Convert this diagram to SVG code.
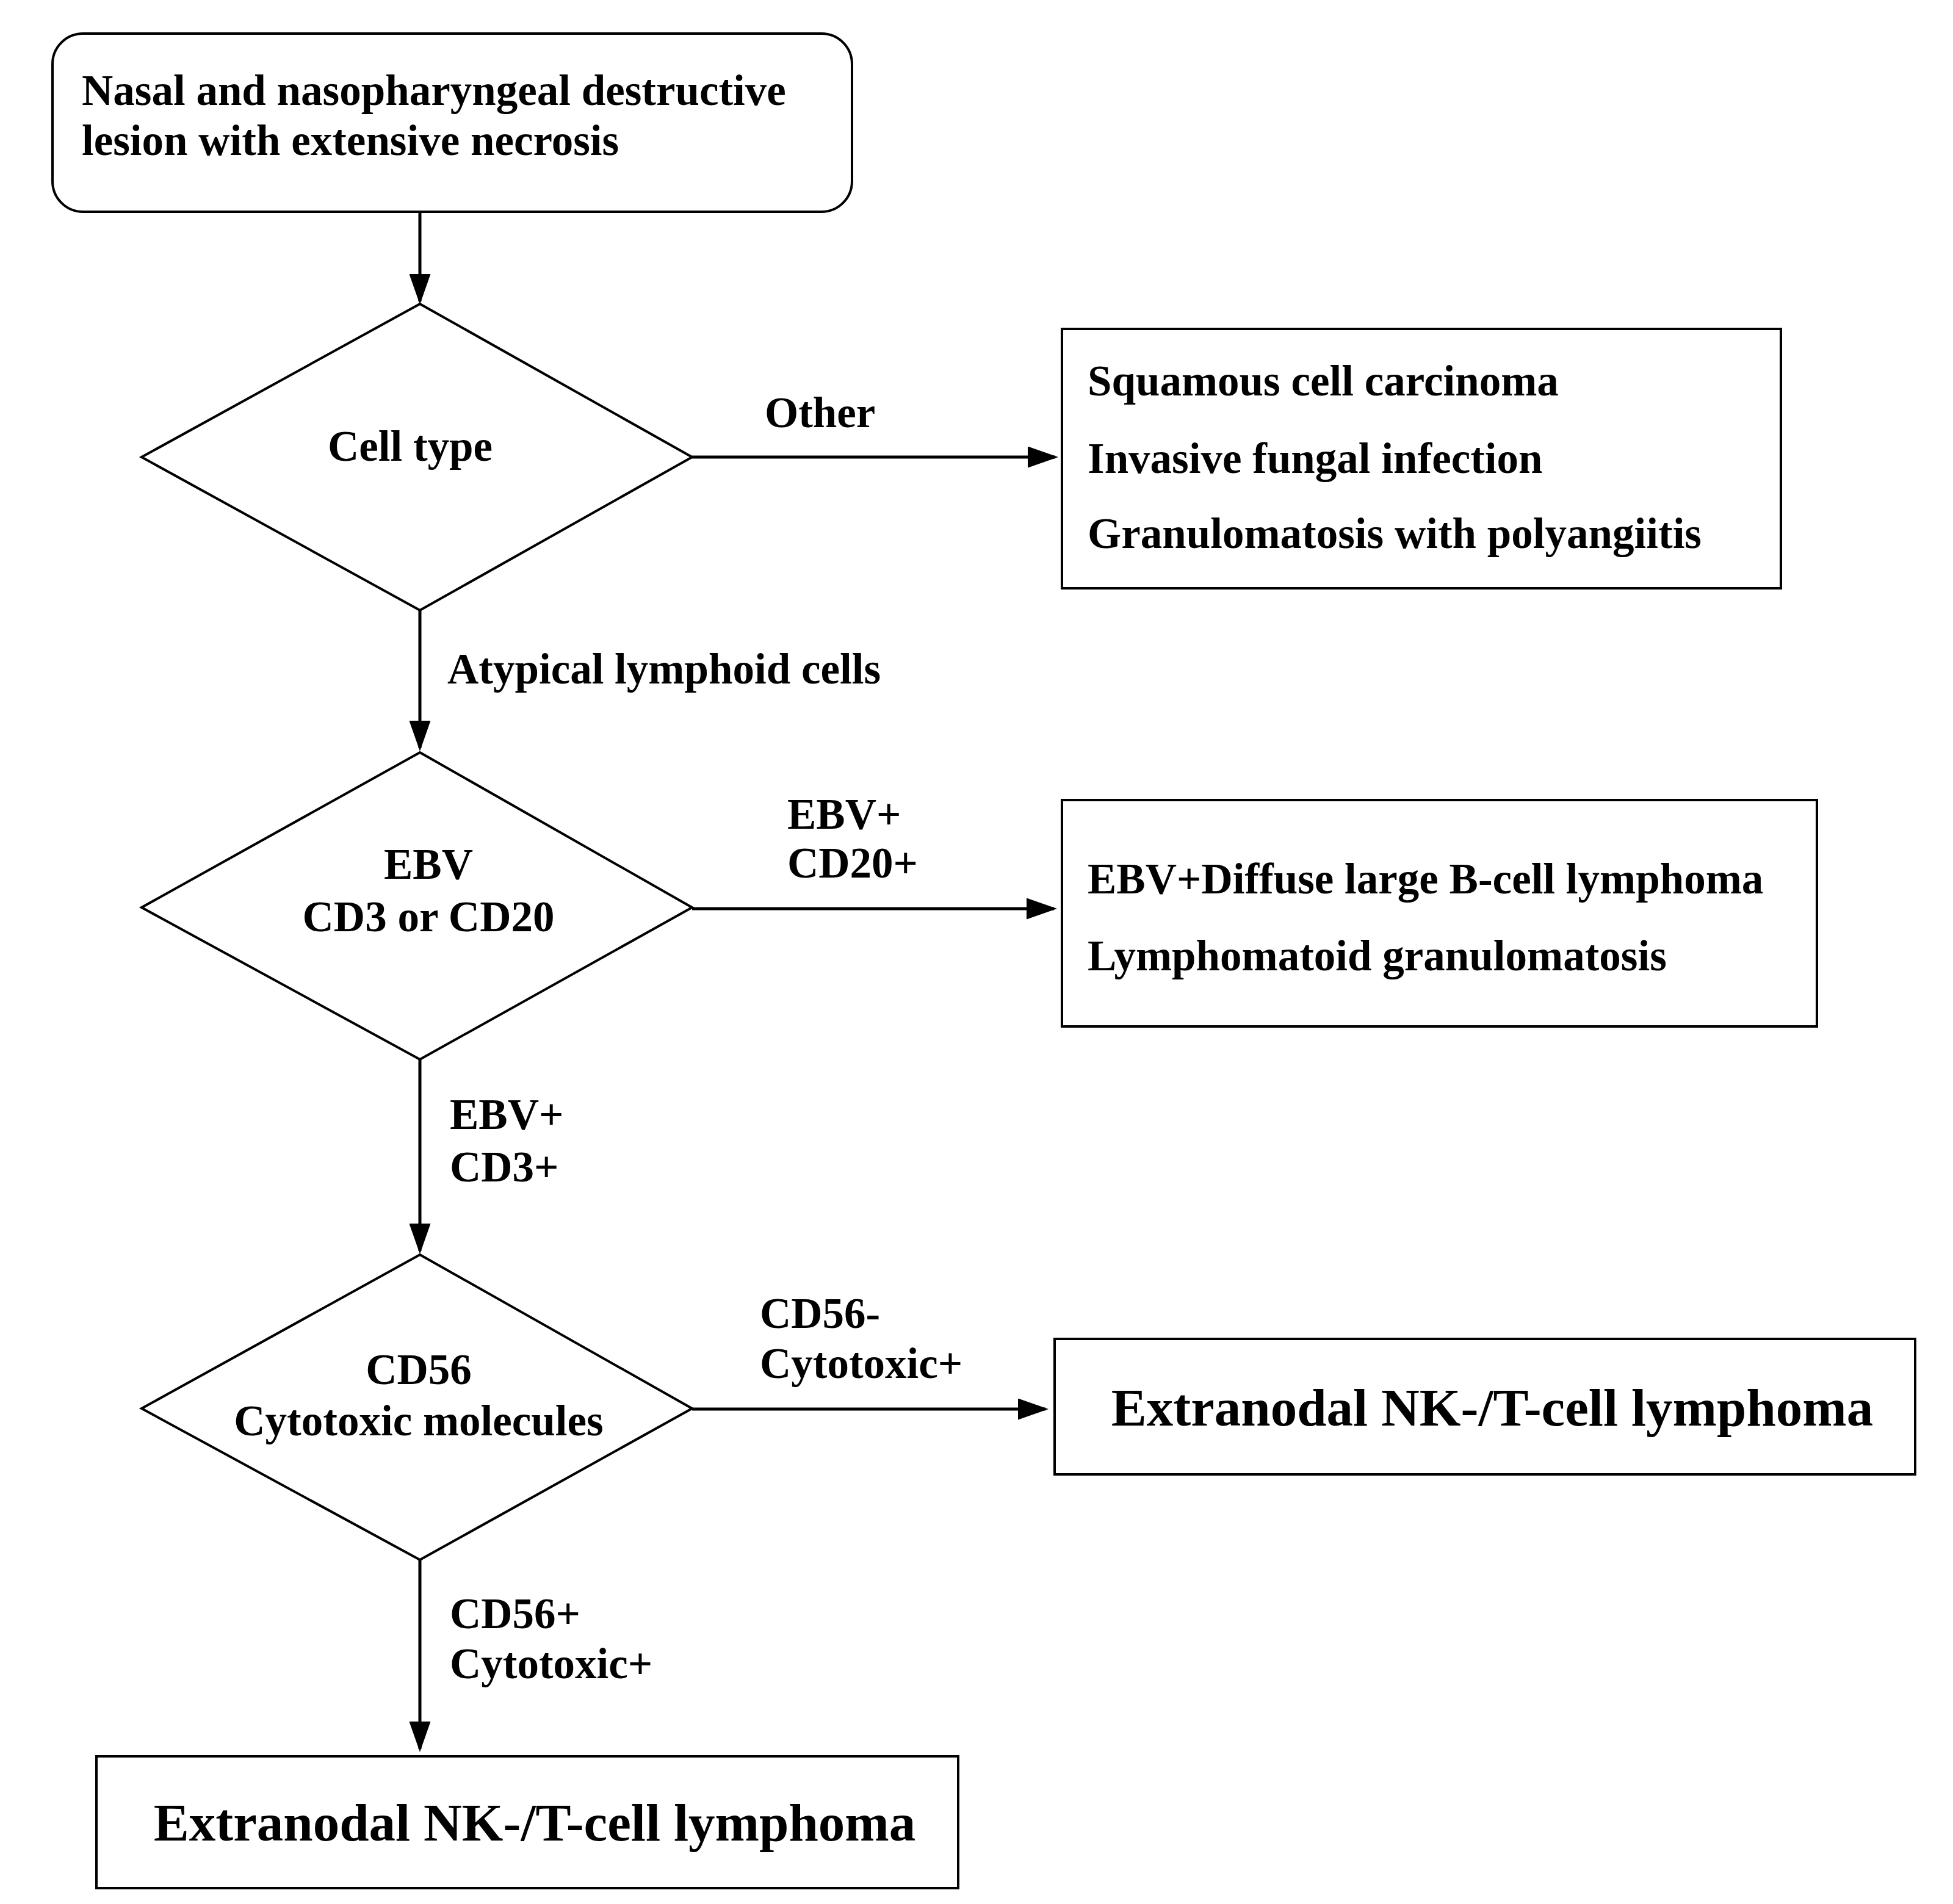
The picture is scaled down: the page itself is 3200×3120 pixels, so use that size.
<svg xmlns="http://www.w3.org/2000/svg" width="3200" height="3120" viewBox="0 0 3200 3120">
<style>
.s{fill:#fff;stroke:#000;stroke-width:4}
.t{font-family:"Liberation Serif","DejaVu Serif",serif;font-weight:bold;font-size:71px;fill:#000}
.b{font-size:87px}
.m{text-anchor:middle}
.c{stroke:#000;stroke-width:5;fill:none;marker-end:url(#a)}
</style>
<defs><marker id="a" markerWidth="10" markerHeight="7" refX="9" refY="3.5" orient="auto" markerUnits="strokeWidth"><path d="M0,0 L10,3.5 L0,7 z" fill="#000"/></marker></defs>
<rect width="3200" height="3120" fill="#fff"/>
<g id="start"><rect class="s" x="86" y="55" width="1310" height="292" rx="50"/>
<text class="t" x="134" y="172">Nasal and nasopharyngeal destructive</text>
<text class="t" x="134" y="254">lesion with extensive necrosis</text></g>
<g id="d1"><polygon class="s" points="688,498 1134,749 688,1000 232,749"/><text class="t m" x="672" y="755">Cell type</text></g>
<g id="b1"><rect class="s" x="1740" y="539" width="1178" height="425"/>
<text class="t" x="1782" y="648">Squamous cell carcinoma</text>
<text class="t" x="1782" y="775">Invasive fungal infection</text>
<text class="t" x="1782" y="898">Granulomatosis with polyangiitis</text></g>
<g id="d2"><polygon class="s" points="688,1233 1134,1487 688,1736 232,1487"/>
<text class="t m" x="702" y="1440">EBV</text><text class="t m" x="702" y="1526">CD3 or CD20</text></g>
<g id="b2"><rect class="s" x="1740" y="1311" width="1237" height="371"/>
<text class="t" x="1782" y="1464">EBV+Diffuse large B-cell lymphoma</text>
<text class="t" x="1782" y="1590">Lymphomatoid granulomatosis</text></g>
<g id="d3"><polygon class="s" points="688,2056 1134,2308 688,2556 232,2308"/>
<text class="t m" x="686" y="2268">CD56</text><text class="t m" x="686" y="2352">Cytotoxic molecules</text></g>
<g id="b3"><rect class="s" x="1728" y="2194" width="1410" height="222"/>
<text class="t b m" x="2445" y="2336">Extranodal NK-/T-cell lymphoma</text></g>
<g id="d4"><rect class="s" x="158" y="2878" width="1412" height="216"/>
<text class="t b m" x="876" y="3016">Extranodal NK-/T-cell lymphoma</text></g>
<g id="connectors">
<path class="c" d="M688,347 V494"/>
<path class="c" d="M1134,749 H1729"/>
<path class="c" d="M688,1000 V1226"/>
<path class="c" d="M1134,1489 H1727"/>
<path class="c" d="M688,1736 V2050"/>
<path class="c" d="M1134,2309 H1713"/>
<path class="c" d="M688,2556 V2866"/>
<text class="t" x="1253" y="700">Other</text>
<text class="t" x="733" y="1120">Atypical lymphoid cells</text>
<text class="t" x="1290" y="1358">EBV+</text><text class="t" x="1290" y="1438">CD20+</text>
<text class="t" x="737" y="1850">EBV+</text><text class="t" x="737" y="1936">CD3+</text>
<text class="t" x="1245" y="2176">CD56-</text><text class="t" x="1245" y="2258">Cytotoxic+</text>
<text class="t" x="737" y="2668">CD56+</text><text class="t" x="737" y="2750">Cytotoxic+</text>
</g>
</svg>
